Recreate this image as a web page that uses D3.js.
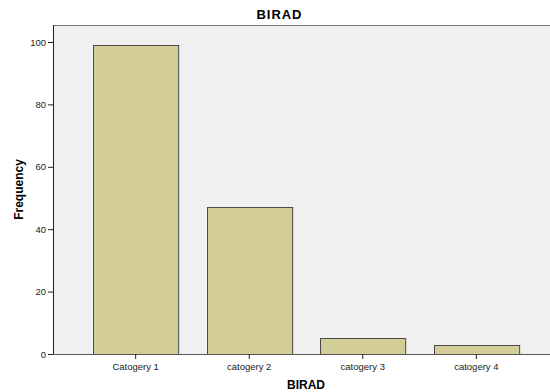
<!DOCTYPE html>
<html>
<head>
<meta charset="utf-8">
<script src="https://cdn.jsdelivr.net/npm/d3@7"></script>
<style>
  body { margin: 0; background: #fff; }
  svg { display: block; font-family: "Liberation Sans", Arial, sans-serif; }
</style>
</head>
<body>
<svg></svg>
<script>
// data
let categories = ["Catogery 1", "catogery 2", "catogery 3", "catogery 4"];
let frequency = [99, 47, 5, 3];
let yTicks = [0, 20, 40, 60, 80, 100];

let margin = { top: 25, right: -9, bottom: 38, left: 53 };
let W = 550, H = 392;
let width = W - margin.left - margin.right,
    height = H - margin.top - margin.bottom;

let svg = d3.select('svg')
  .attr('width', W)
  .attr('height', H);

let g = svg.append('g')
  .attr('transform', `translate(${margin.left},${margin.top})`);

// plot background
g.append('rect')
  .attr('width', width)
  .attr('height', height)
  .attr('fill', '#f0f0f0');

// top frame line
g.append('line')
  .attr('x1', 0).attr('x2', width)
  .attr('y1', 0.5).attr('y2', 0.5)
  .attr('stroke', '#7a7a7a');

let x = d3.scaleBand()
  .domain(categories)
  .range([0, width])
  .paddingInner(0.25)
  .paddingOuter(0.353);

let y = d3.scaleLinear()
  .domain([0, 105])
  .range([height, height - 105 * 3.12]);

// bars
g.selectAll('.bar')
  .data(frequency)
  .enter()
  .append('rect')
    .attr('class', 'bar')
    .attr('x', (d, i) => Math.round(x(categories[i])) + 0.5)
    .attr('y', d => Math.round(y(d)) + 0.5)
    .attr('width', x.bandwidth())
    .attr('height', d => Math.round(y(0)) - Math.round(y(d)))
    .attr('fill', '#d3ce98')
    .attr('stroke', '#4a4a4a')
    .attr('stroke-width', 1);

// y axis
let yAxis = g.append('g')
  .call(d3.axisLeft(y).tickValues(yTicks).tickSize(5).tickPadding(2));
yAxis.select('.domain').attr('stroke', '#222').attr('d', `M0.5,0V${height}`);
yAxis.selectAll('.tick line').attr('stroke', '#222');
yAxis.selectAll('text').attr('font-size', '9.5px').attr('fill', '#222')
  .attr('font-family', '"Liberation Sans", Arial, sans-serif');

// x axis
let xAxis = g.append('g')
  .attr('transform', `translate(0,${height})`)
  .call(d3.axisBottom(x).tickSize(5).tickPadding(4));
xAxis.select('.domain').attr('stroke', '#555').attr('d', `M0,0.5H${width}`);
xAxis.selectAll('.tick line').attr('stroke', '#222');
xAxis.selectAll('text').attr('font-size', '9.5px').attr('fill', '#222')
  .attr('font-family', '"Liberation Sans", Arial, sans-serif');

// title
svg.append('text')
  .attr('x', 279)
  .attr('y', 19)
  .attr('text-anchor', 'middle')
  .attr('font-size', '13px')
  .attr('font-weight', 'bold')
  .attr('textLength', 45)
  .text('BIRAD');

// x label
svg.append('text')
  .attr('x', margin.left + width / 2)
  .attr('y', 389)
  .attr('text-anchor', 'middle')
  .attr('font-size', '12px')
  .attr('font-weight', 'bold')
  .text('BIRAD');

// y label
svg.append('text')
  .attr('transform', `translate(22.5,${margin.top + height / 2}) rotate(-90)`)
  .attr('text-anchor', 'middle')
  .attr('font-size', '12px')
  .attr('font-weight', 'bold')
  .text('Frequency');
</script>
</body>
</html>
